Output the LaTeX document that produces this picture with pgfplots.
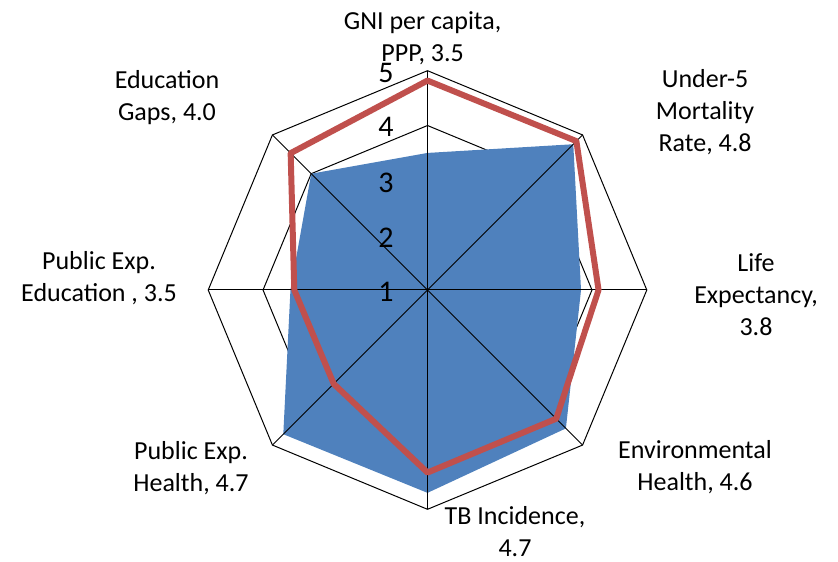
\documentclass[border=0pt]{standalone}
\usepackage{fontspec}
\setmainfont{Carlito}
\usepackage{pgfplots}
\pgfplotsset{compat=1.18}
\usepgfplotslibrary{polar}
\definecolor{xlblue}{RGB}{79,129,189}
\definecolor{xlred}{RGB}{192,80,77}

\begin{document}
\begin{tikzpicture}
\path[use as bounding box] (0,0) rectangle (419pt,280.5pt);
\begin{polaraxis}[at={(213.75pt,135.5pt)}, anchor=center,
  scale only axis, width=219.3pt, height=219.3pt,
  xmin=0, xmax=360, ymin=0, ymax=4, hide axis, clip=false,
  y filter/.expression={y-1}]
 % grid rings
 \addplot[black, line width=0.5pt, mark=none] coordinates {(90,5) (45,5) (0,5) (315,5) (270,5) (225,5) (180,5) (135,5) (90,5)};
 \addplot[black, line width=0.5pt, mark=none] coordinates {(90,4) (45,4) (0,4) (315,4) (270,4) (225,4) (180,4) (135,4) (90,4)};
 \addplot[black, line width=0.5pt, mark=none] coordinates {(90,3) (45,3) (0,3) (315,3) (270,3) (225,3) (180,3) (135,3) (90,3)};
 \addplot[black, line width=0.5pt, mark=none] coordinates {(90,2) (45,2) (0,2) (315,2) (270,2) (225,2) (180,2) (135,2) (90,2)};
 % blue series
 \addplot[fill=xlblue, draw=none, mark=none] coordinates {(90,3.5) (45,4.76) (0,3.8) (315,4.57) (270,4.7) (225,4.72) (180,3.5) (135,4.0) (90,3.5)};
 % spokes
 \addplot[black, line width=0.5pt, mark=none] coordinates {(90,5) (270,5)};
 \addplot[black, line width=0.5pt, mark=none] coordinates {(45,5) (225,5)};
 \addplot[black, line width=0.5pt, mark=none] coordinates {(0,5) (180,5)};
 \addplot[black, line width=0.5pt, mark=none] coordinates {(135,5) (315,5)};
 % red series
 \addplot[xlred, line width=3pt, line join=round, mark=none] coordinates {(90,4.82) (45,4.84) (0,4.12) (315,4.32) (270,4.33) (225,3.42) (180,3.43) (135,4.53)} -- cycle;
\end{polaraxis}
% value scale
\begin{scope}[every node/.style={anchor=east, inner sep=0pt, font=\fontsize{15}{18}\selectfont}]
 \node at (197pt,243.9pt) {5};
 \node at (197pt,217pt) {4};
 \node at (197pt,189.2pt) {3};
 \node at (197pt,161.5pt) {2};
 \node at (197pt,134.5pt) {1};
\end{scope}
% category labels
\begin{scope}[every node/.style={align=center, inner sep=0pt, font=\fontsize{13}{16}\selectfont}]
 \node at (211.3pt,261.5pt) {GNI per capita,\\PPP, 3.5};
 \node at (352.5pt,224.5pt) {Under-5\\Mortality\\Rate, 4.8};
 \node at (378pt,133pt) {Life\\Expectancy,\\3.8};
 \node at (347.5pt,47pt) {Environmental\\Health, 4.6};
 \node at (257.5pt,14.5pt) {TB Incidence,\\4.7};
 \node at (95.5pt,46.5pt) {Public Exp.\\Health, 4.7};
 \node at (49.5pt,141.5pt) {Public Exp.\\Education , 3.5};
 \node at (83.5pt,231.5pt) {Education\\Gaps, 4.0};
\end{scope}
\end{tikzpicture}
\end{document}
